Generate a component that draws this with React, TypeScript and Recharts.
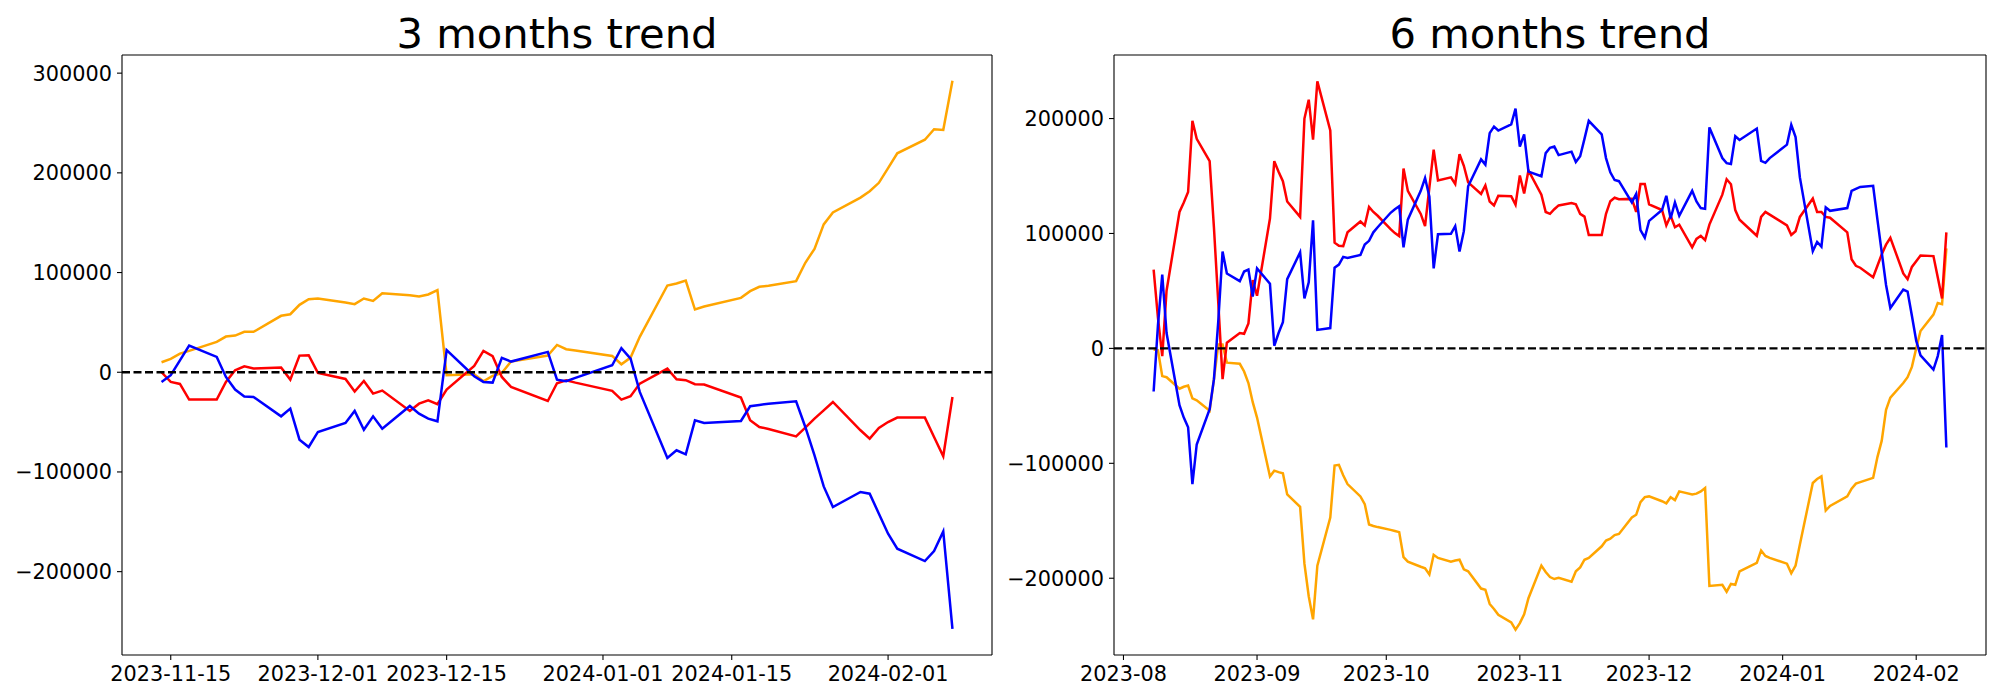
import React from 'react';
import { LineChart, Line, XAxis, YAxis, ReferenceLine } from 'recharts';

// ---------- 3 months trend ----------
const LEFT_DATES = [
  '2023-11-14', '2023-11-15', '2023-11-16', '2023-11-17', '2023-11-20', '2023-11-21', '2023-11-22', '2023-11-23', '2023-11-24', '2023-11-27', '2023-11-28', '2023-11-29', '2023-11-30',
  '2023-12-01', '2023-12-04', '2023-12-05', '2023-12-06', '2023-12-07', '2023-12-08', '2023-12-11', '2023-12-12', '2023-12-13', '2023-12-14', '2023-12-15', '2023-12-18', '2023-12-19', '2023-12-20', '2023-12-21', '2023-12-22', '2023-12-26', '2023-12-27', '2023-12-28', '2023-12-29',
  '2024-01-02', '2024-01-03', '2024-01-04', '2024-01-05', '2024-01-08', '2024-01-09', '2024-01-10', '2024-01-11', '2024-01-12', '2024-01-16', '2024-01-17', '2024-01-18', '2024-01-19', '2024-01-22', '2024-01-23', '2024-01-24', '2024-01-25', '2024-01-26', '2024-01-29', '2024-01-30', '2024-01-31',
  '2024-02-01', '2024-02-02', '2024-02-05', '2024-02-06', '2024-02-07', '2024-02-08',
];
const LEFT_ORANGE = [
  10000, 13400, 18700, 21400, 30500, 35800, 36800, 40500, 40500, 56600, 58200, 67600, 73300,
  74000, 70000, 68300, 74000, 71600, 79300, 77300, 76000, 78000, 82300, -3000, -2000, -9000, -3700, -700, 10700, 16700, 27400, 23100, 21800,
  16400, 8000, 14700, 35500, 87000, 89000, 92000, 62900, 65900, 74600, 81300, 85700, 86700, 91400, 109800, 123800, 148300, 160300, 175200, 181500, 190000,
  204800, 219600, 233200, 243800, 243000, 292400,
];
const LEFT_RED = [
  0, -9700, -11700, -27400, -27400, -9700, 2000, 6000, 3700, 4700, -7400, 16700, 17100,
  -700, -6700, -19400, -8700, -21400, -18400, -38800, -31500, -28100, -32100, -17400, 6400, 21400, 16100, -4700, -14700, -28800, -11000, -8000, -10400,
  -18700, -27400, -24100, -11400, 3700, -7000, -8000, -12000, -12400, -25400, -48200, -54900, -56900, -64300, -55600, -46500, -38200, -29800, -58200, -66600, -55900,
  -49900, -45500, -45500, -64900, -84300, -24800,
];
const LEFT_BLUE = [
  -9700, -3000, 12000, 26800, 15400, -4700, -17400, -24400, -24800, -44200, -36500, -67600, -75000,
  -59900, -50900, -38800, -57600, -44200, -56600, -33800, -41500, -46500, -49200, 22100, -4000, -9700, -10400, 14400, 10700, 20400, -7400, -9000, -5700,
  7000, 24100, 13700, -19700, -86000, -78300, -82300, -48200, -50900, -48900, -34100, -32800, -31500, -29100, -54900, -83300, -114500, -135200, -120100, -121800, -141900,
  -162000, -177000, -189400, -179400, -159600, -257400,
];
const LEFT_X_TICKS = ['2023-11-15', '2023-12-01', '2023-12-15', '2024-01-01', '2024-01-15', '2024-02-01'];
const LEFT_Y_TICKS = [-200000, -100000, 0, 100000, 200000, 300000];
const LEFT_Y_DOMAIN = [-283600, 318200];

// ---------- 6 months trend ----------
const RIGHT_DATES = [
  '2023-08-08', '2023-08-09', '2023-08-10', '2023-08-11', '2023-08-14', '2023-08-15', '2023-08-16', '2023-08-17', '2023-08-18', '2023-08-21', '2023-08-22', '2023-08-23', '2023-08-24', '2023-08-25', '2023-08-28', '2023-08-29', '2023-08-30', '2023-08-31',
  '2023-09-01', '2023-09-04', '2023-09-05', '2023-09-06', '2023-09-07', '2023-09-08', '2023-09-11', '2023-09-12', '2023-09-13', '2023-09-14', '2023-09-15', '2023-09-18', '2023-09-19', '2023-09-20', '2023-09-21', '2023-09-22', '2023-09-25', '2023-09-26', '2023-09-27', '2023-09-28', '2023-09-29',
  '2023-10-02', '2023-10-03', '2023-10-04', '2023-10-05', '2023-10-06', '2023-10-09', '2023-10-10', '2023-10-11', '2023-10-12', '2023-10-13', '2023-10-16', '2023-10-17', '2023-10-18', '2023-10-19', '2023-10-20', '2023-10-23', '2023-10-24', '2023-10-25', '2023-10-26', '2023-10-27', '2023-10-30', '2023-10-31',
  '2023-11-01', '2023-11-02', '2023-11-03', '2023-11-06', '2023-11-07', '2023-11-08', '2023-11-09', '2023-11-10', '2023-11-13', '2023-11-14', '2023-11-15', '2023-11-16', '2023-11-17', '2023-11-20', '2023-11-21', '2023-11-22', '2023-11-23', '2023-11-24', '2023-11-27', '2023-11-28', '2023-11-29', '2023-11-30',
  '2023-12-01', '2023-12-04', '2023-12-05', '2023-12-06', '2023-12-07', '2023-12-08', '2023-12-11', '2023-12-12', '2023-12-13', '2023-12-14', '2023-12-15', '2023-12-18', '2023-12-19', '2023-12-20', '2023-12-21', '2023-12-22', '2023-12-26', '2023-12-27', '2023-12-28', '2023-12-29',
  '2024-01-02', '2024-01-03', '2024-01-04', '2024-01-05', '2024-01-08', '2024-01-09', '2024-01-10', '2024-01-11', '2024-01-12', '2024-01-16', '2024-01-17', '2024-01-18', '2024-01-19', '2024-01-22', '2024-01-23', '2024-01-24', '2024-01-25', '2024-01-26', '2024-01-29', '2024-01-30', '2024-01-31',
  '2024-02-01', '2024-02-02', '2024-02-05', '2024-02-06', '2024-02-07', '2024-02-08',
];
const RIGHT_RED = [
  68600, 26800, -6700, 50200, 118700, 127000, 136100, 198000, 182300, 162900, 105000, 40000, -26800, 5000, 13400, 12700, 21700, 59500,
  45800, 113000, 162900, 153800, 145500, 127800, 114400, 200000, 216400, 181600, 232400, 189600, 92000, 89300, 89000, 101000, 110400, 107000, 123100, 118700, 115400,
  103700, 100300, 97700, 156500, 137100, 117000, 106400, 140000, 172900, 146200, 148800, 143100, 168900, 158900, 144500, 134400, 141800, 127800, 124400, 132800, 132400, 125100,
  150500, 134800, 154800, 133800, 118700, 117100, 121100, 124400, 126400, 125400, 117100, 114700, 98700, 98700, 117100, 128100, 131100, 129800, 130100, 118700, 143100, 143100,
  125400, 120400, 107000, 115400, 105400, 107700, 88000, 95300, 98000, 94300, 107700, 133800, 147200, 142800, 120400, 112000, 98000, 114400, 118700, 116400,
  107000, 98700, 102000, 114400, 130400, 118700, 118700, 114400, 113700, 101000, 77600, 71900, 70200, 61900, 71900, 81900, 90300, 96300, 65200, 60200, 70900,
  75900, 80900, 80300, 61900, 43500, 101000,
];
const RIGHT_BLUE = [
  -37500, 20000, 64200, 13400, -49500, -60200, -68600, -118100, -83600, -52800, -26800, 23400, 84300, 65200, 58500, 66900, 68600, 45200,
  69600, 56200, 2300, 13400, 22700, 60200, 83600, 43500, 57500, 111400, 16100, 17700, 70200, 72900, 79600, 78600, 81300, 90300, 93600, 101000, 105400,
  118000, 121000, 123700, 88000, 112000, 137100, 148200, 132100, 69600, 99300, 99700, 106400, 84300, 102000, 141100, 164500, 159900, 187300, 193000, 189600, 195000, 208700,
  175600, 186300, 153800, 149800, 169900, 174600, 175600, 168200, 171200, 162200, 167200, 182300, 198000, 186300, 165600, 153200, 146500, 145500, 127100, 134400, 103000, 96300,
  111000, 120400, 132800, 113000, 127100, 115400, 137100, 127800, 122100, 121400, 192300, 165600, 161200, 160500, 184600, 181300, 191300, 163200, 161500, 165600,
  177300, 194600, 183900, 148800, 84600, 92600, 88600, 122700, 119700, 122100, 137100, 138800, 140500, 141500, 112000, 83600, 55200, 35100, 51200, 49500, 28400,
  6700, -6000, -18400, -6700, 11700, -86300,
];
const RIGHT_ORANGE = [
  -1000, -1700, -24100, -25100, -35100, -33400, -32400, -43500, -45200, -54200, -26800, 3300, 3300, -12400, -13400, -20100, -30100, -46800,
  -60200, -111400, -106400, -107700, -108700, -127100, -137800, -187300, -215700, -235800, -189000, -147200, -102000, -101300, -110400, -118100, -128800, -135500, -153200, -154500, -155500,
  -157900, -158900, -159900, -181600, -185600, -190000, -191300, -196700, -179600, -182300, -185600, -184600, -183900, -192300, -194000, -209000, -210000, -222400, -226800, -231800, -238500, -244800,
  -239100, -231400, -217400, -189000, -194600, -199000, -200700, -199700, -203000, -194000, -190600, -183900, -182300, -172200, -167200, -165600, -162500, -161500, -147200, -144800, -133800, -129400,
  -128800, -133000, -134800, -129500, -132000, -124400, -127100, -126400, -124400, -121400, -206700, -205700, -211700, -205000, -205700, -194000, -186600, -175900, -180600, -182300,
  -187300, -195700, -189000, -170600, -117100, -113700, -111400, -141100, -137100, -128800, -122100, -117700, -116400, -112700, -94600, -80300, -53500, -42800, -30100, -25100, -16100,
  0, 15100, 29400, 39500, 38500, 87000,
];
const RIGHT_X_TICKS = ['2023-08', '2023-09', '2023-10', '2023-11', '2023-12', '2024-01', '2024-02'];
const RIGHT_Y_TICKS = [-200000, -100000, 0, 100000, 200000];
const RIGHT_Y_DOMAIN = [-266800, 255300];

const TITLES = ['3 months trend', '6 months trend'];

const FONT = "'DejaVu Sans', sans-serif";

function toTime(label: string): number {
  return Date.parse(label.length === 7 ? label + '-01' : label);
}

function buildRows(dates: string[], orange: number[], red: number[], blue: number[]) {
  return dates.map((d, i) => ({ t: toTime(d), orange: orange[i], red: red[i], blue: blue[i] }));
}

function xDomainOf(dates: string[]): [number, number] {
  const ts = dates.map(toTime);
  const lo = Math.min(...ts);
  const hi = Math.max(...ts);
  const pad = (hi - lo) * 0.05;
  return [lo - pad, hi + pad];
}

const fmtY = (v: number) => (v < 0 ? '\u2212' + Math.abs(v) : String(v));

type PanelProps = {
  rows: { t: number; orange: number; red: number; blue: number }[];
  xDomain: [number, number];
  xTickLabels: string[];
  yDomain: number[];
  yTicks: number[];
  ml: number;
  mr: number;
};

function Panel({ rows, xDomain, xTickLabels, yDomain, yTicks, ml, mr }: PanelProps) {
  const ticks = xTickLabels.map(toTime);
  const labelOf = (v: number) => {
    const idx = ticks.indexOf(v);
    return idx >= 0 ? xTickLabels[idx] : '';
  };
  const tickStyle = { fill: '#000', fontSize: 20.8, fontFamily: FONT };
  const LW = 2.5;
  return (
    <LineChart width={1000} height={700} data={rows} margin={{ top: 55, right: mr, bottom: 5, left: ml }}>
      <XAxis
        dataKey="t"
        type="number"
        domain={xDomain}
        allowDataOverflow
        ticks={ticks}
        interval={0}
        tickFormatter={labelOf}
        height={40}
        tickSize={5}
        tickMargin={6}
        tick={tickStyle}
        axisLine={{ stroke: '#000', strokeWidth: 1.1 }}
        tickLine={{ stroke: '#000', strokeWidth: 1.1 }}
      />
      <YAxis
        type="number"
        domain={yDomain}
        allowDataOverflow
        ticks={yTicks}
        interval={0}
        tickFormatter={fmtY}
        width={100}
        tickSize={5}
        tickMargin={5}
        tick={tickStyle}
        axisLine={{ stroke: '#000', strokeWidth: 1.1 }}
        tickLine={{ stroke: '#000', strokeWidth: 1.1 }}
      />
      <Line type="linear" dataKey="orange" stroke="#FFA500" strokeWidth={LW} dot={false} isAnimationActive={false} />
      <Line type="linear" dataKey="red" stroke="#FF0000" strokeWidth={LW} dot={false} isAnimationActive={false} />
      <Line type="linear" dataKey="blue" stroke="#0000FF" strokeWidth={LW} dot={false} isAnimationActive={false} />
      <ReferenceLine y={0} stroke="#000" strokeWidth={2.3} strokeDasharray="8 3.5" />
      <ReferenceLine y={yDomain[1]} stroke="#000" strokeWidth={1.1} />
      <ReferenceLine x={xDomain[1]} stroke="#000" strokeWidth={1.1} />
    </LineChart>
  );
}

export default function App() {
  const leftRows = buildRows(LEFT_DATES, LEFT_ORANGE, LEFT_RED, LEFT_BLUE);
  const rightRows = buildRows(RIGHT_DATES, RIGHT_ORANGE, RIGHT_RED, RIGHT_BLUE);
  return (
    <div style={{ position: 'absolute', left: 0, top: 0, width: 2000, height: 700, background: '#fff', overflow: 'hidden' }}>
      <div style={{ position: 'absolute', left: 0, top: 0 }}>
        <Panel
          rows={leftRows}
          xDomain={xDomainOf(LEFT_DATES)}
          xTickLabels={LEFT_X_TICKS}
          yDomain={LEFT_Y_DOMAIN}
          yTicks={LEFT_Y_TICKS}
          ml={22}
          mr={8}
        />
      </div>
      <div style={{ position: 'absolute', left: 1000, top: 0 }}>
        <Panel
          rows={rightRows}
          xDomain={xDomainOf(RIGHT_DATES)}
          xTickLabels={RIGHT_X_TICKS}
          yDomain={RIGHT_Y_DOMAIN}
          yTicks={RIGHT_Y_TICKS}
          ml={14}
          mr={14}
        />
      </div>
      <svg width={2000} height={700} style={{ position: 'absolute', left: 0, top: 0, pointerEvents: 'none' }}>
        <text x={557} y={48} textAnchor="middle" fontFamily={FONT} fontSize={41.7} fill="#000">{TITLES[0]}</text>
        <text x={1550} y={48} textAnchor="middle" fontFamily={FONT} fontSize={41.7} fill="#000">{TITLES[1]}</text>
      </svg>
    </div>
  );
}
